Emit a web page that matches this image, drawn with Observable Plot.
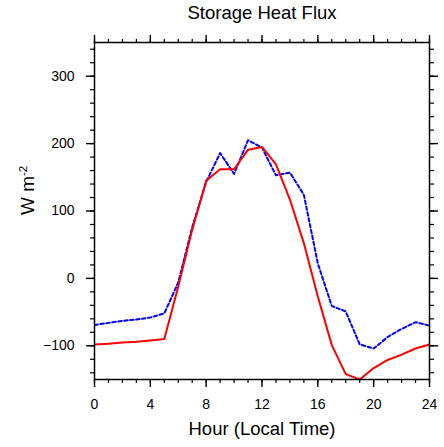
<!DOCTYPE html>
<html>
<head>
<meta charset="utf-8">
<script src="https://cdn.jsdelivr.net/npm/d3@7"></script>
<script src="https://cdn.jsdelivr.net/npm/@observablehq/plot@0.6"></script>
<style>
  html, body { margin: 0; padding: 0; background: #fff; }
  #chart { width: 444px; height: 447px; }
  g[aria-label="x-axis tick label"], g[aria-label="y-axis tick label"] { font-size: 14px !important; }
  g[aria-label="x-axis tick label"] text, g[aria-label="y-axis tick label"] text { font-size: 14px !important; }
</style>
</head>
<body>
<div id="chart"></div>
<script>
const hours = [0,1,2,3,4,5,6,7,8,9,10,11,12,13,14,15,16,17,18,19,20,21,22,23,24];
const seriesRed = [-98,-97,-95,-94,-92,-90,-12,72,145,162,162,191,195,169,117,52,-27,-99,-142,-150,-133,-121,-113,-104,-98];
const seriesBlue = [-69,-66,-63,-61,-58,-52,-6,76,143,186,155,205,194,153,157,124,22,-41,-49,-98,-104,-87,-75,-65,-70];
const xTicks = [0,4,8,12,16,20,24];
const yTicks = [-100,0,100,200,300];
const titleText = "Storage Heat Flux";
const xTitle = "Hour (Local Time)";
const yTitle = "W m";
const yTitleSup = "-2";

const red = hours.map((h, i) => ({h, v: seriesRed[i]}));
const blue = hours.map((h, i) => ({h, v: seriesBlue[i]}));
const xMinor = d3.range(0, 25, 1);
const yMinor = d3.range(-140, 351, 20);
const blank = () => "";
const font = "'Liberation Sans', Arial, Helvetica, sans-serif";

const plot = Plot.plot({
  width: 444,
  height: 447,
  marginLeft: 94,
  marginRight: 15,
  marginTop: 42,
  marginBottom: 68,
  style: {fontFamily: font, fontSize: "14px", background: "#fff", color: "#000", overflow: "visible"},
  x: {domain: [0, 24]},
  y: {domain: [-150, 350]},
  marks: [
    Plot.line(blue, {x: "h", y: "v", stroke: "#0000ff", strokeWidth: 2, strokeDasharray: "3.5,2.5", clip: true}),
    Plot.line(red, {x: "h", y: "v", stroke: "#ff0000", strokeWidth: 2, clip: true}),
    Plot.frame({stroke: "#000", strokeWidth: 1.5}),
    Plot.axisX({ticks: xTicks, tickSize: 8, tickPadding: 12, fontSize: 14, label: null, strokeWidth: 1.4}),
    Plot.axisX({ticks: xMinor, tickSize: 4, tickFormat: blank, label: null, strokeWidth: 1.2}),
    Plot.axisX({anchor: "top", ticks: xTicks, tickSize: 8, tickFormat: blank, label: null, strokeWidth: 1.4}),
    Plot.axisX({anchor: "top", ticks: xMinor, tickSize: 4, tickFormat: blank, label: null, strokeWidth: 1.2}),
    Plot.axisY({ticks: yTicks, tickSize: 8, tickPadding: 12, fontSize: 14, label: null, strokeWidth: 1.4}),
    Plot.axisY({ticks: yMinor, tickSize: 4, tickFormat: blank, label: null, strokeWidth: 1.2}),
    Plot.axisY({anchor: "right", ticks: yTicks, tickSize: 8, tickFormat: blank, label: null, strokeWidth: 1.4}),
    Plot.axisY({anchor: "right", ticks: yMinor, tickSize: 4, tickFormat: blank, label: null, strokeWidth: 1.2}),
    Plot.text([titleText], {text: d => d, frameAnchor: "top", lineAnchor: "middle", dy: -29.6, fontSize: 18.5, fill: "#000"}),
    Plot.text([xTitle], {text: d => d, frameAnchor: "bottom", lineAnchor: "middle", dy: 50, fontSize: 18.5, fill: "#000"}),
    Plot.text([yTitle], {text: d => d, frameAnchor: "left", lineAnchor: "middle", rotate: -90, dx: -67, dy: 4, fontSize: 19, fill: "#000"})
  ]
});

d3.select(plot).selectAll("text")
  .filter(function() { return this.textContent === yTitle; })
  .each(function() {
    const t = d3.select(this);
    t.text(yTitle);
    t.append("tspan").attr("dy", "-0.6em").attr("font-size", "0.6em").text(yTitleSup);
  });

d3.select(plot).selectAll('g[aria-label="x-axis tick label"], g[aria-label="y-axis tick label"]')
  .attr("font-size", 14).style("font-size", "14px");

document.getElementById("chart").appendChild(plot);
</script>
</body>
</html>
